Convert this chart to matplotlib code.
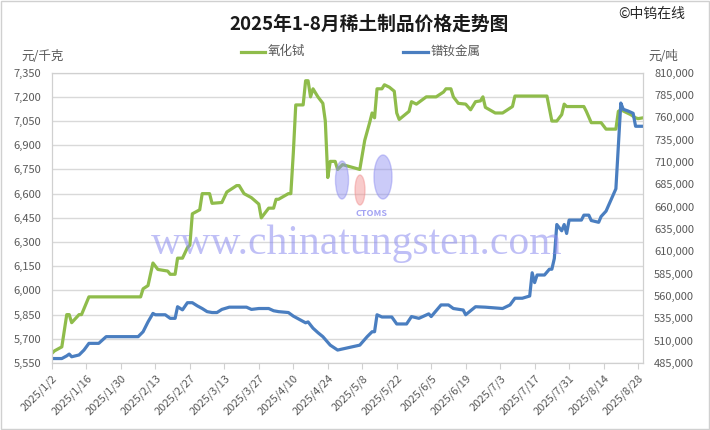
import matplotlib
matplotlib.use("Agg")
import numpy as np
import pandas as pd
import matplotlib.pyplot as plt
import matplotlib.ticker as ticker
from matplotlib.patches import Rectangle, Ellipse

plt.rcParams['font.family'] = ['Noto Sans CJK SC', 'DejaVu Sans']

# 氧化铽 (元/千克), left axis
tb_dates = ["01-02", "01-03", "01-06", "01-08", "01-09", "01-10", "01-13", "01-14", "01-17",
            "02-07", "02-08", "02-10", "02-12", "02-14", "02-18", "02-19", "02-21", "02-22",
            "02-24", "02-26", "02-27", "02-28", "03-03", "03-04", "03-07", "03-08", "03-12",
            "03-14", "03-18", "03-19", "03-21", "03-24", "03-27", "03-28", "03-31", "04-02",
            "04-03", "04-04", "04-08", "04-09", "04-10", "04-11", "04-14", "04-15", "04-16",
            "04-17", "04-18", "04-20", "04-22", "04-23", "04-24", "04-25", "04-27", "04-28",
            "04-30", "05-07", "05-09", "05-11", "05-12", "05-13", "05-14", "05-16", "05-17",
            "05-19", "05-21", "05-22", "05-23", "05-27", "05-28", "05-30", "06-03", "06-07",
            "06-10", "06-11", "06-13", "06-14", "06-16", "06-19", "06-21", "06-23", "06-25",
            "06-26", "06-27", "07-01", "07-04", "07-06", "07-08", "07-09", "07-22", "07-24",
            "07-26", "07-28", "07-29", "07-30", "08-06", "08-07", "08-09", "08-13", "08-15",
            "08-19", "08-20", "08-21", "08-25", "08-27", "08-28", "08-30"]
tb_values = [5610, 5625, 5650, 5850, 5850, 5800, 5850, 5850, 5960,
             5960, 6010, 6030, 6170, 6130, 6120, 6100, 6100, 6200,
             6200, 6265, 6280, 6475, 6500, 6600, 6600, 6540, 6545,
             6610, 6650, 6650, 6600, 6575, 6535, 6450, 6510, 6510,
             6565, 6565, 6600, 6600, 6850, 7150, 7150, 7300, 7300,
             7200, 7250, 7200, 7160, 7050, 6700, 6800, 6800, 6750,
             6780, 6750, 6930, 7040, 7100, 7070, 7250, 7250, 7275,
             7260, 7235, 7100, 7060, 7110, 7170, 7155, 7200, 7200,
             7230, 7250, 7250, 7200, 7160, 7155, 7120, 7170, 7175,
             7200, 7135, 7100, 7100, 7120, 7140, 7205, 7205, 7050,
             7050, 7090, 7155, 7140, 7140, 7110, 7040, 7040, 7000,
             7000, 7110, 7120, 7090, 7070, 7065, 7070]

# 镨钕金属 (元/吨), right axis
prnd_dates = ["01-02", "01-06", "01-08", "01-09", "01-10", "01-13", "01-15", "01-17", "01-21",
              "01-24", "02-06", "02-08", "02-10", "02-12", "02-13", "02-17", "02-19", "02-21",
              "02-22", "02-24", "02-26", "02-28", "03-02", "03-04", "03-06", "03-08", "03-10",
              "03-12", "03-15", "03-22", "03-24", "03-27", "03-31", "04-02", "04-04", "04-08",
              "04-10", "04-13", "04-15", "04-16", "04-18", "04-20", "04-22", "04-25", "04-28",
              "05-07", "05-10", "05-12", "05-13", "05-14", "05-16", "05-20", "05-22", "05-26",
              "05-28", "05-31", "06-04", "06-05", "06-09", "06-12", "06-14", "06-18", "06-19",
              "06-23", "06-27", "07-04", "07-07", "07-09", "07-12", "07-15", "07-16", "07-17",
              "07-18", "07-21", "07-23", "07-24", "07-25", "07-26", "07-28", "07-29", "07-30",
              "07-31", "08-05", "08-06", "08-08", "08-09", "08-12", "08-13", "08-15", "08-19",
              "08-21", "08-22", "08-24", "08-26", "08-27", "08-30"]
prnd_values = [490000, 490000, 493000, 495000, 492000, 494000, 499500, 507000, 507000,
               514500, 514500, 520000, 531000, 540500, 539000, 539000, 535000, 535000,
               548000, 544500, 552500, 552500, 549000, 546000, 542500, 541500, 541500,
               545000, 547500, 547500, 545000, 546000, 546000, 543500, 542500, 541500,
               537500, 533000, 530000, 531000, 524000, 519000, 514500, 505000, 499500,
               505000, 514500, 520000, 520000, 539000, 536500, 536500, 528700, 528700,
               537000, 535000, 540000, 537000, 550000, 550000, 546000, 544300, 539000,
               548000, 547500, 546000, 550000, 557500, 557500, 560000, 586000, 575000,
               583500, 583500, 590000, 590000, 602000, 640000, 633000, 640000, 630000,
               645000, 645000, 650500, 650500, 644500, 642500, 649000, 655000, 680000,
               776000, 769000, 767000, 764500, 750000, 750000]

tick_dates = pd.date_range("2025-01-02", "2025-08-28", freq="14D")
left_ticks = np.arange(5550, 7351, 150)
right_ticks = np.arange(485000, 810001, 25000)

green = "#8fbc4b"
blue = "#4a7ec0"
grey_text = "#595959"

tb_x = pd.to_datetime(["2025-" + d for d in tb_dates])
prnd_x = pd.to_datetime(["2025-" + d for d in prnd_dates])

fig = plt.figure(figsize=(7.1, 4.3), dpi=100)
ax = fig.add_axes([0.0732, 0.1558, 0.8324, 0.6752])
ax2 = ax.twinx()

ax.plot(tb_x, tb_values, color=green, lw=2.3, solid_joinstyle="round")
ax2.plot(prnd_x, prnd_values, color=blue, lw=2.3, solid_joinstyle="round")

ax.set_ylim(5550, 7350)
ax2.set_ylim(485000, 810000)
ax.set_xlim(pd.Timestamp("2025-01-02"), pd.Timestamp("2025-08-30"))

ax.set_yticks(left_ticks)
ax2.set_yticks(right_ticks)
ax.yaxis.set_major_formatter(ticker.FuncFormatter(lambda v, p: f"{int(v):,}"))
ax2.yaxis.set_major_formatter(ticker.FuncFormatter(lambda v, p: f"{int(v):,}"))
ax.yaxis.grid(True, color="#d9d9d9", lw=1)
ax.set_axisbelow(True)

ax.set_xticks(tick_dates)
ax.set_xticklabels([f"{d.year}/{d.month}/{d.day}" for d in tick_dates],
                   rotation=45, ha="right", rotation_mode="anchor")

for a in (ax, ax2):
    for s in a.spines.values():
        s.set_color("#d0d0d0")
    a.tick_params(axis="both", labelsize=8, colors=grey_text, length=0)
ax.tick_params(axis="x", length=4, color="#d0d0d0", pad=3)
ax.tick_params(axis="y", pad=8)
ax2.tick_params(axis="y", pad=8)

# watermark
fig.text(0.502, 0.433, "www.chinatungsten.com", family="Liberation Serif", fontsize=30,
         color="#8c8cf0", alpha=0.55, ha="center", va="center", zorder=10)
for (cx, cy, w, h, c) in [(342, 180, 13, 38, "#8c8cf0"), (360, 190, 10, 30, "#f08c8c"),
                          (383, 177, 18, 44, "#8c8cf0")]:
    fig.patches.append(Ellipse((cx / 710, 1 - cy / 430), w / 710, h / 430,
                               transform=fig.transFigure, color=c, alpha=0.45, zorder=10))
fig.text(372 / 710, 1 - 213 / 430, "CTOMS", fontsize=6.5, style="italic", weight="bold",
         color="#8c8cf0", alpha=0.8, ha="center", va="center")

# titles and labels
fig.text(0.52, 1 - 24 / 430, "2025年1-8月稀土制品价格走势图", fontsize=13.5, weight="bold",
         ha="center", va="center", color="#1a1a1a")
fig.text(0.965, 1 - 14 / 430, "©中钨在线", fontsize=10, ha="right", va="center", color="#262626")
fig.text(0.03, 1 - 57 / 430, "元/千克", fontsize=9, ha="left", va="center", color=grey_text)
fig.text(0.913, 1 - 57 / 430, "元/吨", fontsize=9, ha="left", va="center", color=grey_text)

# legend drawn by hand
fig.lines.append(plt.Line2D([241 / 710, 265 / 710], [1 - 52 / 430] * 2, color=green, lw=2.3,
                            transform=fig.transFigure))
fig.text(268 / 710, 1 - 52 / 430, "氧化铽", fontsize=9, ha="left", va="center", color=grey_text)
fig.lines.append(plt.Line2D([403 / 710, 428 / 710], [1 - 52 / 430] * 2, color=blue, lw=2.3,
                            transform=fig.transFigure))
fig.text(431 / 710, 1 - 52 / 430, "镨钕金属", fontsize=9, ha="left", va="center", color=grey_text)

fig.patches.append(Rectangle((0.001, 0.002), 0.997, 0.996, transform=fig.transFigure,
                             fill=False, edgecolor="#d0d0d0", lw=1))

fig.savefig("out.png", dpi=100)
